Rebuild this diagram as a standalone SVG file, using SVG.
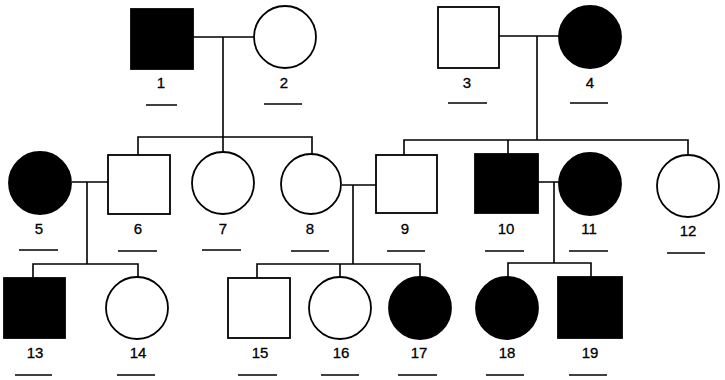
<svg xmlns="http://www.w3.org/2000/svg" width="725" height="380" viewBox="0 0 725 380">
<style>
.o{fill:#fff;stroke:#000;stroke-width:1.8}
.f{fill:#000;stroke:#000;stroke-width:1.8}
.l{fill:none;stroke:#000;stroke-width:1.6}
.u{stroke:#000;stroke-width:1.5}
text{font-family:"Liberation Sans",Arial,sans-serif;font-size:15px;text-anchor:middle;fill:#000;stroke:#000;stroke-width:0.3}
</style>
<rect width="725" height="380" fill="#fff"/>
<g id="connectors" class="l">
<path d="M193 37H254M223 37V137M138 155V137H312V155M223 137V153"/>
<path d="M499 36H559M537 36V140M404 155V140H688V156M508 140V154"/>
<path d="M72 182H108M87 182V264M33 278V264H138V278"/>
<path d="M342 185H376M353 185V264M257 278V264H420V277M340 264V278"/>
<path d="M538 182H559M554 182V263M508 277V263H591V277"/>
</g>
<g id="n1"><rect class="f" x="131" y="9" width="62" height="60"/><text x="161" y="88">1</text><line class="u" x1="146" y1="105" x2="177" y2="105"/></g>
<g id="n2"><circle class="o" cx="285" cy="37" r="31"/><text x="284" y="88">2</text><line class="u" x1="264" y1="104" x2="302" y2="104"/></g>
<g id="n3"><rect class="o" x="438" y="7" width="61" height="61"/><text x="467" y="88">3</text><line class="u" x1="448" y1="103" x2="487" y2="103"/></g>
<g id="n4"><circle class="f" cx="590" cy="37" r="31"/><text x="590" y="88">4</text><line class="u" x1="570" y1="103" x2="608" y2="103"/></g>
<g id="n5"><circle class="f" cx="40" cy="183" r="31"/><text x="39" y="234">5</text><line class="u" x1="19" y1="250" x2="58" y2="250"/></g>
<g id="n6"><rect class="o" x="108" y="155" width="62" height="59"/><text x="138" y="234">6</text><line class="u" x1="118" y1="251" x2="157" y2="251"/></g>
<g id="n7"><circle class="o" cx="223" cy="183" r="31"/><text x="223" y="234">7</text><line class="u" x1="202" y1="250" x2="241" y2="250"/></g>
<g id="n8"><circle class="o" cx="311" cy="184" r="30"/><text x="310" y="234">8</text><line class="u" x1="291" y1="251" x2="329" y2="251"/></g>
<g id="n9"><rect class="o" x="376" y="155" width="61" height="58"/><text x="405" y="234">9</text><line class="u" x1="387" y1="251" x2="425" y2="251"/></g>
<g id="n10"><rect class="f" x="475" y="154" width="63" height="59"/><text x="506" y="234">10</text><line class="u" x1="485" y1="251" x2="524" y2="251"/></g>
<g id="n11"><circle class="f" cx="590" cy="184" r="31"/><text x="589" y="234">11</text><line class="u" x1="569" y1="251" x2="608" y2="251"/></g>
<g id="n12"><circle class="o" cx="688" cy="186" r="31"/><text x="688" y="236">12</text><line class="u" x1="667" y1="253" x2="705" y2="253"/></g>
<g id="n13"><rect class="f" x="4" y="278" width="61" height="60"/><text x="35" y="358">13</text><line class="u" x1="15" y1="375" x2="52" y2="375"/></g>
<g id="n14"><circle class="o" cx="137" cy="308" r="31"/><text x="138" y="358">14</text><line class="u" x1="117" y1="375" x2="155" y2="375"/></g>
<g id="n15"><rect class="o" x="228" y="278" width="62" height="60"/><text x="260" y="358">15</text><line class="u" x1="238" y1="375" x2="277" y2="375"/></g>
<g id="n16"><circle class="o" cx="340" cy="308" r="31"/><text x="341" y="358">16</text><line class="u" x1="321" y1="375" x2="359" y2="375"/></g>
<g id="n17"><circle class="f" cx="420" cy="308" r="31"/><text x="419" y="358">17</text><line class="u" x1="398" y1="375" x2="437" y2="375"/></g>
<g id="n18"><circle class="f" cx="507" cy="308" r="31"/><text x="507" y="358">18</text><line class="u" x1="486" y1="375" x2="524" y2="375"/></g>
<g id="n19"><rect class="f" x="558" y="277" width="64" height="61"/><text x="590" y="358">19</text><line class="u" x1="569" y1="375" x2="607" y2="375"/></g>
</svg>
